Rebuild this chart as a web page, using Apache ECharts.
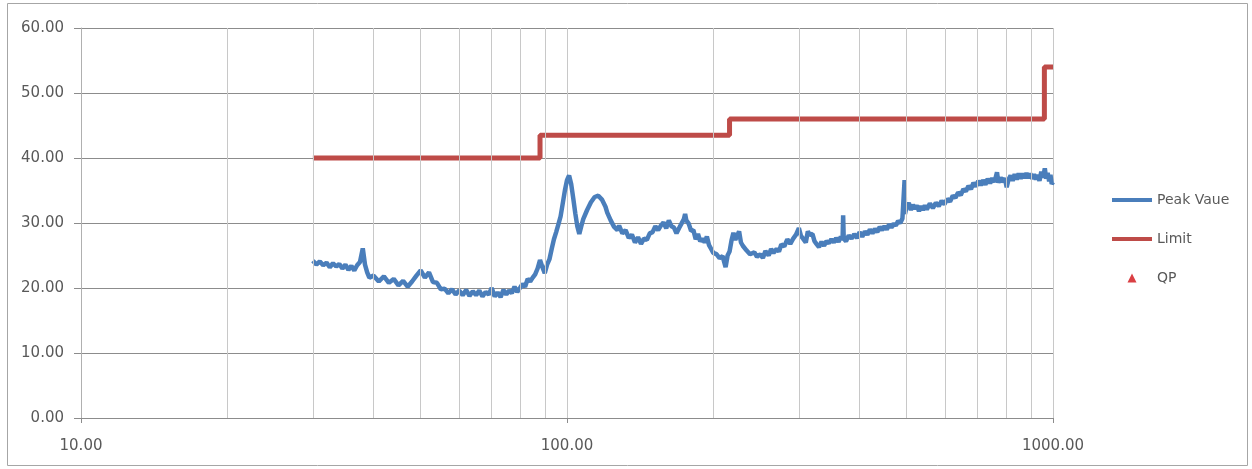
<!DOCTYPE html>
<html>
<head>
<meta charset="utf-8">
<title>Peak Vaue</title>
<script src="https://cdn.jsdelivr.net/npm/echarts/dist/echarts.min.js"></script>
<style>
  html, body { margin: 0; padding: 0; background: #fff; }
  #chart { width: 1252px; height: 469px; }
</style>
</head>
<body>
<div id="chart"></div>
<script>
// peak trace, [frequency MHz, level]
const peakData = [
  [30, 24.2], [30.5, 23.6], [31, 24.1], [31.5, 23.5], [32, 23.9], [32.5, 23.2], [33, 23.8], [33.5, 23.3],
  [34, 23.7], [34.5, 23.0], [35, 23.6], [35.5, 22.8], [36, 23.4], [36.5, 22.7], [37, 23.5], [37.5, 24.0],
  [38, 26.1], [38.4, 23.6], [38.8, 22.4], [39.2, 21.6],
  [40, 21.9], [41, 21.0], [42, 21.8], [43, 20.8], [44, 21.4], [45, 20.4], [46, 21.1], [47, 20.2],
  [48, 21.0], [49, 21.9], [50, 22.7], [51, 21.6], [52, 22.4], [53, 20.9], [54, 20.8], [55, 19.8],
  [56, 19.9], [57, 19.2], [58, 19.8], [59, 19.0], [60, 19.6], [61, 18.9], [62, 19.7], [63, 18.8],
  [64, 19.5], [65, 18.9], [66, 19.6], [67, 18.7], [68, 19.4], [69, 19.0], [70, 20.0], [71, 18.7],
  [72, 19.3], [73, 18.6], [74, 19.7], [75, 19.0], [76, 19.6], [77, 19.2], [78, 20.2], [79, 19.4],
  [80, 20.0], [81, 20.6], [82, 20.2], [83, 21.4], [84, 21.0], [85, 21.6], [86, 22.1], [87, 23.0],
  [88, 24.3], [89, 23.2], [90, 22.3], [91, 23.6], [92, 24.4], [93, 26.0], [94, 27.5], [95, 28.6],
  [96, 29.8], [97, 31.0], [98, 33.0], [99, 35.0], [100, 36.6], [101, 37.3], [102, 36.0], [103, 33.8],
  [104, 31.5], [105, 29.5], [106, 28.3], [107, 29.5], [108, 30.6], [110, 32.0], [112, 33.2], [114, 34.0],
  [116, 34.2], [118, 33.6], [120, 32.5], [121, 31.6], [122, 31.4], [123, 30.4], [124, 30.3], [125, 29.4],
  [126, 29.7], [127, 28.9], [128, 29.6], [130, 28.4], [132, 28.9], [134, 27.7], [136, 28.2], [138, 27.0],
  [140, 27.8], [142, 26.8], [144, 27.6], [146, 27.4], [148, 28.4], [150, 28.6], [152, 29.5], [154, 28.9],
  [156, 29.6], [158, 30.1], [160, 29.2], [162, 30.4], [164, 29.5], [166, 29.3], [168, 28.4], [170, 29.2],
  [172, 29.9], [174, 30.6], [175, 31.4], [176, 30.4], [178, 29.9], [180, 28.8], [182, 28.9], [184, 27.5],
  [186, 28.3], [188, 27.2], [190, 27.6], [192, 27.0], [194, 27.9], [196, 26.6], [198, 26.0], [200, 25.4],
  [203, 25.2], [206, 24.6], [209, 24.9], [212, 23.2], [214, 25.0], [216, 25.6], [218, 27.3], [220, 28.5],
  [222, 27.4], [224, 27.6], [226, 28.7], [228, 27.0], [230, 26.5], [232, 26.4], [234, 25.8], [236, 25.9],
  [238, 25.2], [240, 25.0], [243, 25.5], [246, 24.8], [250, 25.2], [253, 24.6], [256, 25.7], [260, 25.0],
  [263, 26.0], [266, 25.4], [270, 26.0], [273, 25.6], [276, 26.7], [280, 26.4], [284, 27.5], [288, 26.8],
  [292, 27.6], [296, 28.2], [300, 29.2], [303, 28.0], [306, 27.6], [310, 27.0], [313, 28.7], [316, 28.2],
  [320, 28.3], [323, 27.2], [326, 26.8], [330, 26.3], [334, 27.1], [338, 26.5], [342, 27.2], [346, 26.9],
  [350, 27.5], [354, 27.0], [358, 27.7], [362, 27.1], [366, 27.9], [369, 27.4], [370, 31.2], [371, 27.6],
  [375, 27.2], [380, 28.1], [385, 27.6], [390, 28.3], [395, 27.7], [400, 28.6], [405, 27.9], [410, 28.7],
  [415, 28.2], [420, 29.0], [425, 28.4], [430, 29.1], [435, 28.6], [440, 29.4], [445, 28.9], [450, 29.5],
  [455, 29.0], [460, 29.8], [465, 29.3], [470, 29.9], [475, 29.6], [480, 30.3], [485, 30.0], [490, 30.7],
  [494, 31.0], [495, 36.6], [496, 31.4], [500, 32.6], [505, 33.1], [510, 32.0], [515, 32.8], [520, 32.2],
  [525, 32.7], [530, 31.8], [535, 32.6], [540, 32.0], [545, 32.7], [550, 32.1], [558, 33.0], [566, 32.3],
  [574, 33.1], [582, 32.6], [590, 33.4], [598, 32.9], [606, 33.7], [614, 33.3], [622, 34.2], [630, 33.9],
  [638, 34.7], [646, 34.3], [654, 35.2], [662, 34.9], [670, 35.7], [678, 35.2], [686, 36.2], [694, 35.6],
  [702, 36.5], [710, 35.8], [718, 36.6], [726, 35.9], [734, 36.8], [742, 36.1], [750, 36.9], [758, 36.3],
  [767, 37.8], [772, 36.2], [780, 37.0], [788, 36.3], [796, 36.9], [803, 35.5], [810, 36.7], [818, 37.3],
  [826, 36.5], [834, 37.5], [842, 36.7], [850, 37.6], [858, 36.8], [866, 37.6], [874, 36.9], [882, 37.7],
  [890, 36.9], [898, 37.6], [906, 36.8], [914, 37.5], [922, 36.7], [930, 37.4], [938, 36.5], [946, 37.9],
  [954, 37.0], [962, 38.4], [968, 36.8], [975, 37.7], [982, 36.4], [988, 37.4], [994, 36.0], [1000, 36.3]
];

// limit steps (level holds until the next frequency)
const limitFreq = [30, 88, 216, 960, 1000];
const limitLevel = [40, 43.5, 46, 54, 54];

// vertical grid at 20..90, 200..900
const gridFreq = [20, 30, 40, 50, 60, 70, 80, 90, 200, 300, 400, 500, 600, 700, 800, 900];

const font = 'DejaVu Sans';
const blue = '#4a7ebb';
const red = '#be4b48';
const qpRed = '#d10f14';
const lineIcon = 'path://M0,0L40,0L40,4L0,4Z';

const chart = echarts.init(document.getElementById('chart'));

chart.setOption({
  animation: false,
  grid: { left: 81, right: 199, top: 28, bottom: 51 },
  graphic: [{
    type: 'rect',
    shape: { x: 7.5, y: 3.5, width: 1240, height: 462 },
    style: { fill: 'none', stroke: '#a6a6a6', lineWidth: 1 },
    silent: true
  }],
  legend: {
    orient: 'vertical',
    left: 1112,
    top: 193,
    padding: 0,
    itemWidth: 40,
    itemHeight: 14,
    itemGap: 25,
    textStyle: { color: '#595959', fontSize: 14, fontFamily: font },
    data: [
      { name: 'Peak Vaue', icon: lineIcon, itemStyle: { color: blue } },
      { name: 'Limit', icon: lineIcon, itemStyle: { color: red } },
      { name: 'QP', icon: 'path://M0,0M14,14M7,2.5L11.5,11.5L2.5,11.5Z', itemStyle: { color: qpRed } }
    ]
  },
  xAxis: {
    type: 'log',
    logBase: 10,
    min: 10,
    max: 1000,
    axisLine: { show: true, lineStyle: { color: '#8c8c8c', width: 1 } },
    axisTick: { show: true, length: 5, lineStyle: { color: '#8c8c8c' } },
    axisLabel: {
      color: '#595959', fontSize: 15, fontFamily: font, margin: 21,
      formatter: v => v.toFixed(2)
    },
    splitLine: { show: true, lineStyle: { color: '#c8c8c8', width: 1 } }
  },
  yAxis: {
    type: 'value',
    min: 0,
    max: 60,
    interval: 10,
    axisLine: { show: true, lineStyle: { color: '#b0b0b0', width: 1 } },
    axisTick: { show: true, length: 7, lineStyle: { color: '#8c8c8c' } },
    axisLabel: {
      color: '#595959', fontSize: 15, fontFamily: font, margin: 17,
      formatter: v => v.toFixed(2)
    },
    splitLine: { show: true, lineStyle: { color: '#8c8c8c', width: 1 } }
  },
  series: [
    {
      name: 'grid',
      type: 'line',
      data: [],
      z: 1,
      silent: true,
      markLine: {
        silent: true,
        symbol: ['none', 'none'],
        label: { show: false },
        lineStyle: { color: '#c8c8c8', type: 'solid', width: 1 },
        data: gridFreq.map(f => ({ xAxis: f }))
      }
    },
    {
      name: 'Peak Vaue',
      type: 'line',
      z: 3,
      showSymbol: false,
      symbol: 'none',
      color: blue,
      lineStyle: { color: blue, width: 4.5 },
      data: peakData
    },
    {
      name: 'Limit',
      type: 'line',
      z: 4,
      step: 'end',
      showSymbol: false,
      symbol: 'none',
      color: red,
      lineStyle: { color: red, width: 5 },
      data: limitFreq.map((f, i) => [f, limitLevel[i]])
    },
    {
      name: 'QP',
      type: 'scatter',
      symbol: 'triangle',
      symbolSize: 9,
      color: qpRed,
      data: []
    }
  ]
});
</script>
</body>
</html>
